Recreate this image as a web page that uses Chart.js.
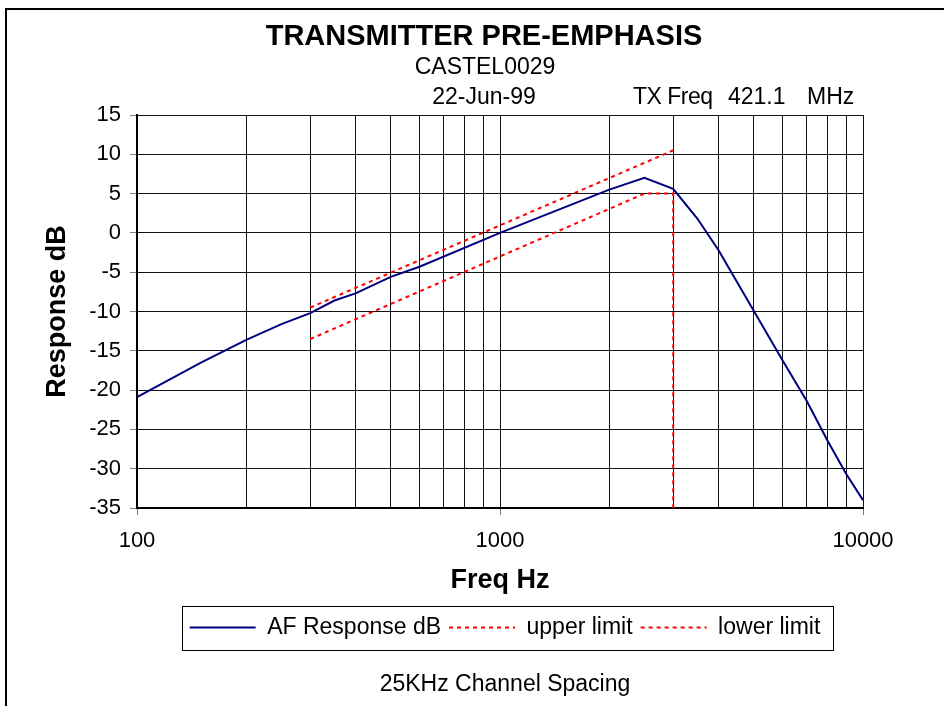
<!DOCTYPE html>
<html>
<head>
<meta charset="utf-8">
<script src="https://cdn.jsdelivr.net/npm/chart.js@4/dist/chart.umd.min.js"></script>
<style>
  html, body { margin: 0; padding: 0; background: #fff; }
  body { width: 944px; height: 706px; position: relative; overflow: hidden; font-family: 'Liberation Sans', Arial, sans-serif; color: #000; }
  #frame { position: absolute; left: 5px; top: 8px; right: -10px; bottom: -10px; border-left: 2px solid #000; border-top: 2px solid #000; }
  .txt { position: absolute; white-space: nowrap; line-height: 1; }
  .c { transform: translate(-50%, -50%); }
  .l { transform: translate(0, -50%); }
  #chartCanvas { position: absolute; left: 0; top: 0; }
</style>
</head>
<body>
<div id="frame"></div>
<canvas id="chartCanvas" width="944" height="706"></canvas>
<div class="txt c" style="left:484px; top:35px; font-size:29px; font-weight:bold;">TRANSMITTER PRE-EMPHASIS</div>
<div class="txt c" style="left:485px; top:66px; font-size:23px;">CASTEL0029</div>
<div class="txt c" style="left:484px; top:96px; font-size:23px;">22-Jun-99</div>
<div class="txt l" style="left:633px; top:96px; font-size:23px; letter-spacing:-0.5px;">TX Freq</div>
<div class="txt l" style="left:728px; top:96px; font-size:23px;">421.1</div>
<div class="txt l" style="left:807px; top:96px; font-size:23px;">MHz</div>
<div class="txt c" style="left:505px; top:683px; font-size:23px;">25KHz Channel Spacing</div>
<script>
// AF response
const afFreq = [100, 150, 200, 250, 300, 350, 400, 500, 600, 1000, 2000, 2500, 3000, 3500, 4000, 5000, 6000, 7000, 8000, 9000, 10000];
const afDb = [-20.9, -16.5, -13.6, -11.6, -10.2, -8.6, -7.7, -5.6, -4.3, 0, 5.5, 7, 5.6, 1.8, -2.2, -9.9, -16.2, -21.4, -26.5, -30.7, -34];

const upperFreq = [300, 3000];
const upperDb = [-9.5, 10.5];

const lowerFreq = [300, 2500, 3000, 3000];
const lowerDb = [-13.5, 5, 5, -35];

const xGridTicks = [100, 200, 300, 400, 500, 600, 700, 800, 900,
  1000, 2000, 3000, 4000, 5000, 6000, 7000, 8000, 9000, 10000];
const xLabelTicks = [100, 1000, 10000];

const toPoints = (xs, ys) => xs.map((x, i) => ({ x: x, y: ys[i] }));
const isDecade = v => xLabelTicks.includes(v);

const FONT = "'Liberation Sans', Arial, sans-serif";

const legendBox = {
  id: 'legendBox',
  afterLayout(chart) {
    chart.legend.left += 5;
    chart.legend.right += 5;
  },
  afterDraw(chart) {
    const boxes = chart.legend.legendHitBoxes;
    if (!boxes || !boxes.length) return;
    const left = Math.min(...boxes.map(b => b.left));
    const right = Math.max(...boxes.map(b => b.left + b.width));
    const cy = boxes[0].top + boxes[0].height / 2;
    const ctx = chart.ctx;
    ctx.save();
    ctx.strokeStyle = '#000';
    ctx.lineWidth = 1;
    ctx.setLineDash([]);
    ctx.strokeRect(Math.round(left - 8) + 0.5, Math.round(cy - 22) + 0.5, Math.round(right - left + 20), 44);
    ctx.restore();
  }
};

const ctx = document.getElementById('chartCanvas').getContext('2d');
new Chart(ctx, {
  type: 'line',
  data: {
    datasets: [
      { label: 'AF Response dB', data: toPoints(afFreq, afDb), borderColor: '#000080', borderWidth: 2, pointRadius: 0, pointStyle: 'line', fill: false, tension: 0 },
      { label: 'upper limit', data: toPoints(upperFreq, upperDb), borderColor: '#ff0000', borderWidth: 2, borderDash: [4, 4], pointRadius: 0, pointStyle: 'line', fill: false, tension: 0 },
      { label: 'lower limit', data: toPoints(lowerFreq, lowerDb), borderColor: '#ff0000', borderWidth: 2, borderDash: [4, 4], pointRadius: 0, pointStyle: 'line', fill: false, tension: 0 }
    ]
  },
  options: {
    responsive: false,
    animation: false,
    layout: { padding: { left: 0, right: 81, top: 115, bottom: 57 } },
    plugins: {
      title: { display: false },
      tooltip: { enabled: false },
      legend: {
        position: 'bottom',
        fullSize: false,
        labels: {
          usePointStyle: true,
          pointStyleWidth: 66,
          padding: 8,
          color: '#000',
          font: { family: FONT, size: 23 },
          generateLabels: chart => Chart.defaults.plugins.legend.labels.generateLabels(chart).map((item, i) => {
            const ds = chart.data.datasets[i];
            item.lineDash = ds.borderDash || [];
            item.lineWidth = 2;
            item.strokeStyle = ds.borderColor;
            return item;
          })
        }
      }
    },
    scales: {
      x: {
        type: 'logarithmic',
        min: 100,
        max: 10000,
        afterBuildTicks: scale => { scale.ticks = xGridTicks.map(v => ({ value: v })); },
        afterFit: scale => { scale.height = 100; },
        ticks: {
          autoSkip: false,
          maxRotation: 0,
          padding: 13,
          color: '#000',
          font: { family: FONT, size: 22 },
          callback: v => isDecade(v) ? String(v) : ''
        },
        grid: {
          color: '#111',
          lineWidth: 1,
          tickLength: 7,
          tickColor: c => isDecade(c.tick && c.tick.value) ? '#808080' : 'rgba(0,0,0,0)'
        },
        border: { color: '#000', width: 2 },
        title: {
          display: true,
          text: 'Freq Hz',
          color: '#000',
          font: { family: FONT, size: 27, weight: 'bold' },
          padding: { top: 0, bottom: 11 }
        }
      },
      y: {
        min: -35,
        max: 15,
        afterFit: scale => { scale.width = 137; },
        ticks: {
          stepSize: 5,
          padding: 9,
          color: '#000',
          font: { family: FONT, size: 22 }
        },
        grid: { color: '#111', lineWidth: 1, tickLength: 7, tickColor: '#808080' },
        border: { color: '#000', width: 2 },
        title: {
          display: true,
          text: 'Response dB',
          color: '#000',
          font: { family: FONT, size: 27, weight: 'bold' },
          padding: { top: 41, bottom: 0 }
        }
      }
    }
  },
  plugins: [legendBox]
});
</script>
</body>
</html>
